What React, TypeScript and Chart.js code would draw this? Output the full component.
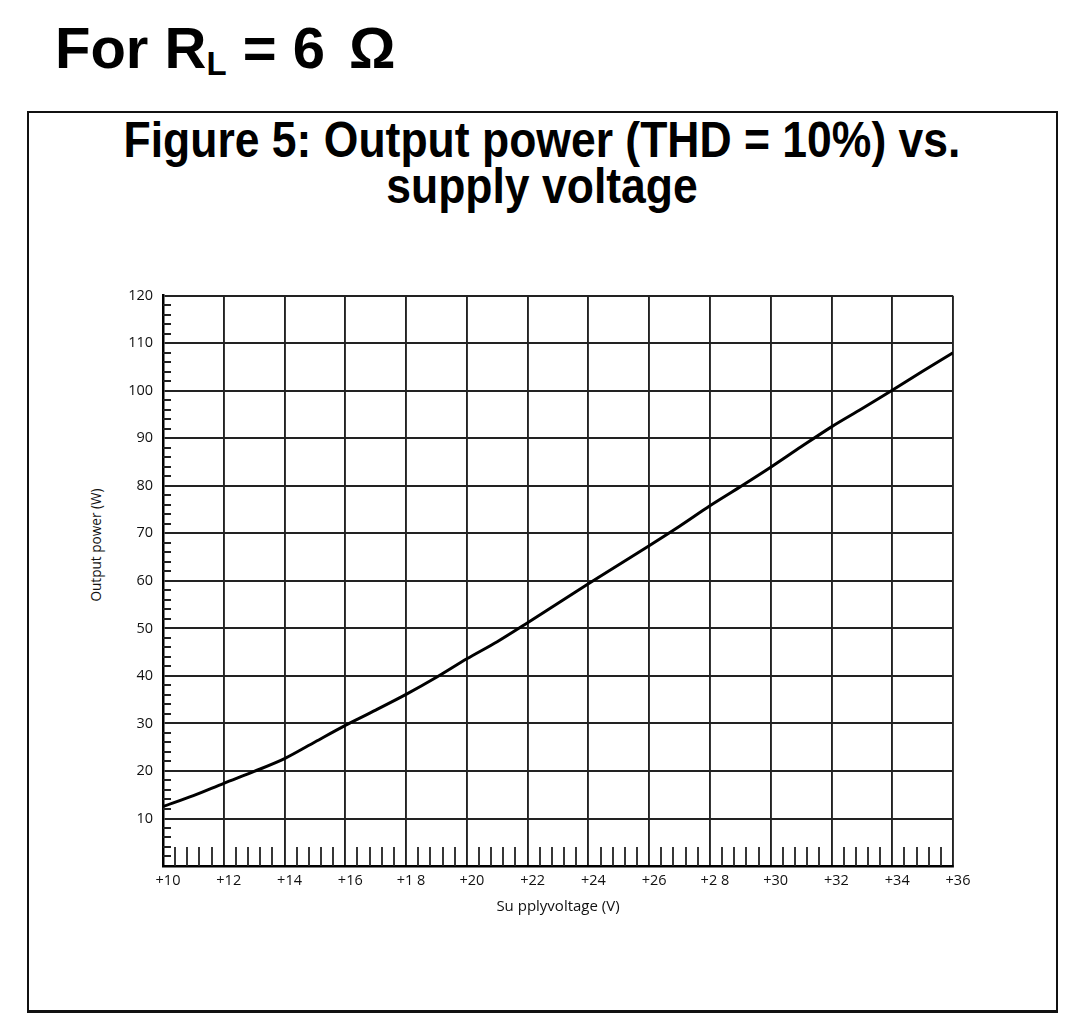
import React, { useEffect, useRef } from "react";
import { Chart, registerables } from "chart.js";

Chart.register(...registerables);

const supplyVoltage = [10, 11, 12, 13, 14, 15, 16, 17, 18, 19, 20, 21, 22, 23, 24, 25, 26, 27, 28, 29, 30, 31, 32, 33, 34, 35, 36];
const outputPower = [12.5, 14.8, 17.4, 19.9, 22.6, 26.1, 29.6, 32.8, 36.1, 39.7, 43.6, 47.2, 51.2, 55.3, 59.4, 63.4, 67.4, 71.5, 75.8, 79.8, 83.9, 88.2, 92.4, 96.2, 100.1, 104.1, 108.0];
const xTickLabels = ["+10", "+12", "+14", "+16", "+1 8", "+20", "+22", "+24", "+26", "+2 8", "+30", "+32", "+34", "+36"];
const yTickLabels = ["", "10", "20", "30", "40", "50", "60", "70", "80", "90", "100", "110", "120"];

const X_MIN = 10;
const X_MAX = 36;
const X_STEP = 2;
const X_MINOR_STEP = 0.4;
const Y_MIN = 0;
const Y_MAX = 120;
const Y_STEP = 10;
const Y_MINOR_STEP = 2;

const TICK_FONT = { family: "'Open Sans', 'Noto Sans', sans-serif", size: 14.5 };

const minorTicksPlugin = {
  id: "minorTicks",
  beforeDatasetsDraw(chart: any) {
    const { ctx, chartArea, scales } = chart;
    const xs = scales.x;
    const ys = scales.y;
    ctx.save();
    ctx.strokeStyle = "#222";
    ctx.lineWidth = 1.8;
    ctx.beginPath();
    for (let major = X_MIN; major < X_MAX; major += X_STEP) {
      for (let k = 1; k * X_MINOR_STEP < X_STEP - 1e-6; k++) {
        const px = Math.round(xs.getPixelForValue(major + k * X_MINOR_STEP));
        ctx.moveTo(px, chartArea.bottom);
        ctx.lineTo(px, chartArea.bottom - 19);
      }
    }
    for (let v = Y_MIN; v < Y_MAX; v += Y_MINOR_STEP) {
      if (v % Y_STEP === 0) continue;
      const py = Math.round(ys.getPixelForValue(v));
      ctx.moveTo(chartArea.left, py);
      ctx.lineTo(chartArea.left + 8, py);
    }
    ctx.stroke();
    ctx.restore();
  },
};

function PowerChart() {
  const ref = useRef<HTMLCanvasElement | null>(null);
  useEffect(() => {
    if (!ref.current) return;
    const chart = new Chart(ref.current, {
      type: "line",
      data: {
        datasets: [
          {
            label: "Output power",
            data: supplyVoltage.map((v, i) => ({ x: v, y: outputPower[i] })),
            borderColor: "#000",
            borderWidth: 3,
            pointRadius: 0,
            tension: 0.3,
            fill: false,
          },
        ],
      },
      options: {
        animation: false,
        responsive: false,
        layout: { padding: { top: 1, right: 47, left: 0, bottom: 0 } },
        plugins: { legend: { display: false }, tooltip: { enabled: false } },
        scales: {
          x: {
            type: "linear",
            min: X_MIN,
            max: X_MAX,
            afterFit: (s: any) => {
              s.height = 59;
            },
            ticks: {
              stepSize: X_STEP,
              autoSkip: false,
              maxRotation: 0,
              padding: 6,
              labelOffset: 5,
              color: "#111",
              font: TICK_FONT,
              callback: (_v: any, i: number) => xTickLabels[i],
            },
            grid: { color: "#222", lineWidth: 1.9, drawTicks: false },
            border: { display: true, color: "#000", width: 2.5 },
            title: {
              display: true,
              text: "Su pplyvoltage (V)",
              color: "#111",
              font: { family: "'Open Sans', 'Noto Sans', sans-serif", size: 15 },
              padding: { top: 2, bottom: 9 },
            },
          },
          y: {
            type: "linear",
            min: Y_MIN,
            max: Y_MAX,
            afterFit: (s: any) => {
              s.width = 93;
            },
            ticks: {
              stepSize: Y_STEP,
              padding: 10,
              color: "#111",
              font: TICK_FONT,
              callback: (_v: any, i: number) => yTickLabels[i],
            },
            grid: { color: "#222", lineWidth: 1.9, drawTicks: false },
            border: { display: true, color: "#000", width: 2.5 },
          },
        },
      },
      plugins: [minorTicksPlugin],
    });
    return () => chart.destroy();
  }, []);
  return (
    <canvas
      ref={ref}
      width={930}
      height={648}
      style={{ position: "absolute", left: 70, top: 277, width: 930, height: 648, display: "block" }}
    />
  );
}

export default function App() {
  return (
    <div style={{ position: "absolute", left: 0, top: 0, width: 1074, height: 1024, background: "#fff", overflow: "hidden" }}>
      <div
        style={{
          position: "absolute",
          left: 55,
          top: 19,
          font: "bold 58px 'Liberation Sans', Arial, sans-serif",
          lineHeight: "58px",
          whiteSpace: "nowrap",
          color: "#000",
        }}
      >
        For R<span style={{ fontSize: 33, position: "relative", top: 7 }}>L</span> = 6{" "}
        <span style={{ marginLeft: 8 }}>Ω</span>
      </div>
      <div
        style={{
          position: "absolute",
          left: 27,
          top: 111,
          width: 1031,
          height: 902,
          boxSizing: "border-box",
          border: "2px solid #111",
          borderBottom: "3px solid #111",
        }}
      />
      <div
        style={{
          position: "absolute",
          left: 62,
          top: 117,
          width: 960,
          textAlign: "center",
          font: "bold 50px 'Liberation Sans', Arial, sans-serif",
          lineHeight: "46px",
          transform: "scaleX(0.89)",
          transformOrigin: "50% 0",
          whiteSpace: "nowrap",
          color: "#000",
        }}
      >
        Figure 5: Output power (THD = 10%) vs.
        <br />
        supply voltage
      </div>
      <div
        style={{
          position: "absolute",
          left: 95,
          top: 545,
          transform: "translate(-50%, -50%) rotate(-90deg)",
          font: "13.6px 'Open Sans', 'Noto Sans', sans-serif",
          whiteSpace: "nowrap",
          color: "#111",
        }}
      >
        Output power (W)
      </div>
      <PowerChart />
    </div>
  );
}
